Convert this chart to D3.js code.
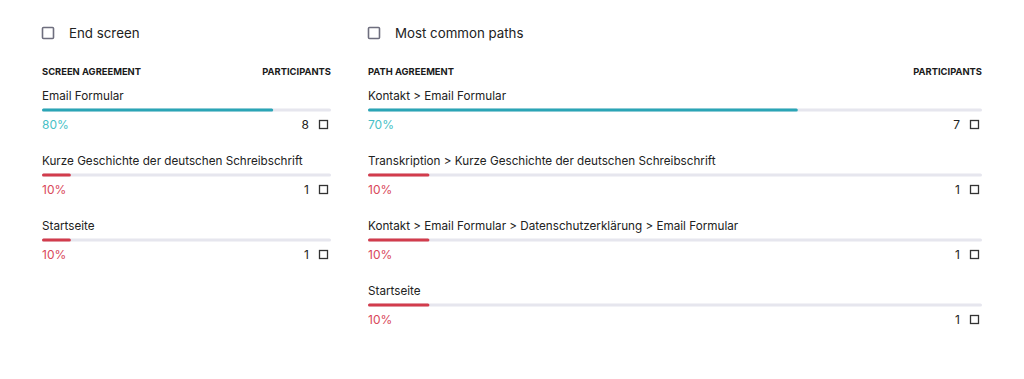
<!DOCTYPE html>
<html>
<head>
<meta charset="utf-8">
<script src="https://cdn.jsdelivr.net/npm/d3@7"></script>
<style>
    body { margin: 0; background: #fff; }
    svg { display: block; font-family: Inter, "Noto Sans", sans-serif; }
</style>
</head>
<body>
<svg id="chart" width="1024" height="379"></svg>
<script>
// left panel: end screens
let screenNames = ["Email Formular", "Kurze Geschichte der deutschen Schreibschrift", "Startseite"]
let screenPercents = [80, 10, 10]
let screenParticipants = [8, 1, 1]

// right panel: paths
let pathNames = [
    "Kontakt > Email Formular",
    "Transkription > Kurze Geschichte der deutschen Schreibschrift",
    "Kontakt > Email Formular > Datenschutzerklärung > Email Formular",
    "Startseite"
]
let pathPercents = [70, 10, 10, 10]
let pathParticipants = [7, 1, 1, 1]

let svg = d3.select("#chart")

function drawPanel(cfg) {
    let g = svg.append("g").attr("transform", `translate(${cfg.x},0)`)

    let xScale = d3.scaleLinear().domain([0, 100]).range([0, cfg.width])
    let yScale = d3.scalePoint()
        .domain(d3.range(cfg.names.length))
        .range([0, 65 * (cfg.names.length - 1)])

    // title with checkbox
    g.append("rect")
        .attr("x", 0.5).attr("y", 27.5)
        .attr("width", 11).attr("height", 11)
        .attr("rx", 1)
        .attr("fill", "none").attr("stroke", "#6e6e7e").attr("stroke-width", 1.6)
    g.append("text")
        .attr("x", 27).attr("y", 38)
        .attr("font-size", 13.3).attr("fill", "#222")
        .text(cfg.title)

    // column headers
    g.append("text")
        .attr("x", 0).attr("y", 75)
        .attr("font-size", 9.4).attr("font-weight", 700).attr("fill", "#1a1a1a")
        .text(cfg.header)
    g.append("text")
        .attr("x", cfg.width).attr("y", 75)
        .attr("text-anchor", "end")
        .attr("font-size", 9.4).attr("font-weight", 700).attr("fill", "#1a1a1a")
        .text("PARTICIPANTS")

    let rows = g.selectAll(".row")
        .data(cfg.names.map((n, i) => ({ name: n, pct: cfg.percents[i], n: cfg.participants[i], i })))
        .enter()
        .append("g")
        .attr("class", "row")
        .attr("transform", d => `translate(0,${yScale(d.i)})`)

    let barColor = d => d.pct >= 50 ? "#2aa5b6" : "#d23c4c"
    let pctColor = d => d.pct >= 50 ? "#47bfc6" : "#d9495a"

    rows.append("text")
        .attr("x", 0).attr("y", 100)
        .attr("font-size", 11.7).attr("fill", "#222")
        .text(d => d.name)

    rows.append("rect")
        .attr("x", 0).attr("y", 108.5)
        .attr("width", xScale(100)).attr("height", 3)
        .attr("rx", 1.5)
        .attr("fill", "#e6e6ee")

    rows.append("rect")
        .attr("x", 0).attr("y", 108.5)
        .attr("width", d => xScale(d.pct)).attr("height", 3)
        .attr("rx", 1.5)
        .attr("fill", barColor)

    rows.append("text")
        .attr("x", 0).attr("y", 129)
        .attr("font-size", 12).attr("fill", pctColor)
        .text(d => d.pct + "%")

    rows.append("text")
        .attr("x", cfg.width - 22).attr("y", 129)
        .attr("text-anchor", "end")
        .attr("font-size", 12).attr("fill", "#222")
        .text(d => d.n)

    rows.append("rect")
        .attr("x", cfg.width - 11.5).attr("y", 120.5)
        .attr("width", 8).attr("height", 8)
        .attr("fill", "none").attr("stroke", "#333").attr("stroke-width", 1.3)
}

drawPanel({
    x: 42, width: 289,
    title: "End screen", header: "SCREEN AGREEMENT",
    names: screenNames, percents: screenPercents, participants: screenParticipants
})

drawPanel({
    x: 368, width: 614,
    title: "Most common paths", header: "PATH AGREEMENT",
    names: pathNames, percents: pathPercents, participants: pathParticipants
})
</script>
</body>
</html>
